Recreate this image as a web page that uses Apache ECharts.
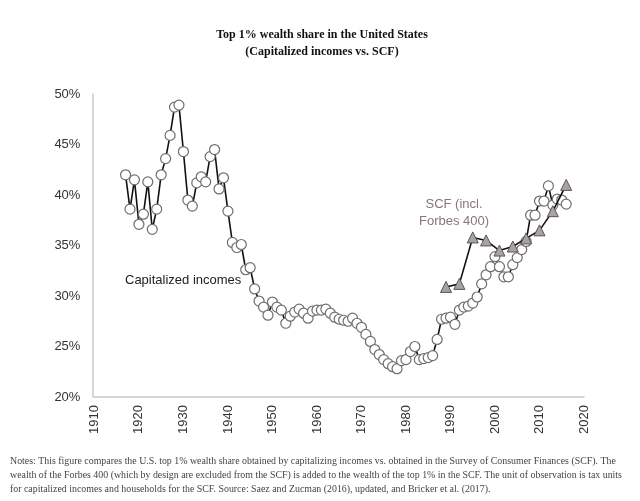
<!DOCTYPE html>
<html><head><meta charset="utf-8">
<script src="https://cdn.jsdelivr.net/npm/echarts@6/dist/echarts.min.js"></script>
<style>html,body{margin:0;padding:0;background:#fff}#c{width:640px;height:501px}</style>
</head><body><div id="c"></div>
<script>
var capYears = [];
for (var y = 1917; y <= 2016; y++) capYears.push(y);
var capValues = [
42.0,38.6,41.5,37.1,38.1,41.3,36.6,38.6,42.0,43.6,
45.9,48.7,48.9,44.3,39.5,38.9,41.2,41.8,41.3,43.8,
44.5,40.6,41.7,38.4,35.3,34.8,35.1,32.6,32.8,30.7,
29.5,28.9,28.1,29.4,28.9,28.6,27.3,28.0,28.4,28.7,
28.3,27.8,28.5,28.6,28.6,28.7,28.3,27.9,27.7,27.6,
27.5,27.8,27.3,26.9,26.2,25.5,24.7,24.2,23.7,23.3,
23.0,22.8,23.6,23.7,24.5,25.0,23.7,23.8,23.9,24.1,
25.7,27.7,27.8,27.9,27.2,28.6,28.9,29.0,29.3,29.9,
31.2,32.1,32.9,33.9,32.9,31.9,31.9,33.1,33.8,34.6,
35.4,38.0,38.0,39.4,39.4,40.9,39.0,39.6,39.5,39.1
];
var scfYears = [1989,1992,1995,1998,2001,2004,2007,2010,2013,2016];
var scfValues = [30.9,31.2,35.8,35.5,34.5,34.9,35.7,36.5,38.4,41.0];
var xTicks = {min:1910, max:2020, step:10};
var yTicks = {min:20, max:50, step:5};
var titleLines = ['Top 1% wealth share in the United States','(Capitalized incomes vs. SCF)'];
var noteLines = [
'Notes: This figure compares the U.S. top 1% wealth share obtained by capitalizing incomes vs. obtained in the Survey of Consumer Finances (SCF). The',
'wealth of the Forbes 400 (which by design are excluded from the SCF) is added to the wealth of the top 1% in the SCF. The unit of observation is tax units',
'for capitalized incomes and households for the SCF. Source: Saez and Zucman (2016), updated, and Bricker et al. (2017).'
];
var capLabel = 'Capitalized incomes';
var scfLabel = ['SCF (incl.','Forbes 400)'];

function zip(a,b){return a.map(function(v,i){return [v,b[i]];});}

var chart = echarts.init(document.getElementById('c'), null, {renderer:'canvas'});
chart.setOption({
  animation:false,
  backgroundColor:'#fff',
  title:{
    text:titleLines.join('\n'), left:317, top:21, textAlign:'center',
    textStyle:{fontFamily:'Liberation Serif', fontWeight:'bold', fontSize:12, lineHeight:17, color:'#111'}
  },
  grid:{left:94.4, right:56, top:94, bottom:104},
  xAxis:{
    type:'value', min:xTicks.min, max:xTicks.max, interval:xTicks.step,
    axisLine:{show:true, lineStyle:{color:'#c8c8c8', width:1.5}},
    axisTick:{show:false}, splitLine:{show:false},
    axisLabel:{rotate:90, margin:8, fontFamily:'Liberation Sans', fontSize:13, color:'#333',
      formatter:function(v){return String(v);}}
  },
  yAxis:{
    type:'value', min:yTicks.min, max:yTicks.max, interval:yTicks.step, offset:2,
    axisLine:{show:true, lineStyle:{color:'#c8c8c8', width:1.5}},
    axisTick:{show:false}, splitLine:{show:false},
    axisLabel:{formatter:'{value}%', margin:12, fontFamily:'Liberation Sans', fontSize:13, color:'#333'}
  },
  series:[
    {type:'line', data:zip(capYears,capValues), symbol:'circle', symbolSize:10,
     lineStyle:{color:'#111', width:1.6},
     itemStyle:{color:'#fff', borderColor:'#6e6e6e', borderWidth:1.2}, z:2},
    {type:'line', data:zip(scfYears,scfValues), symbol:'triangle', symbolSize:11,
     lineStyle:{color:'#111', width:1.6},
     itemStyle:{color:'#aaa2a2', borderColor:'#5a5555', borderWidth:1}, z:3}
  ],
  graphic:[
    {type:'text', left:125, top:274, style:{text:capLabel, font:'13px "Liberation Sans"', fill:'#222'}},
    {type:'text', x:454, y:196, style:{text:scfLabel.join('\n'), font:'13px "Liberation Sans"', lineHeight:17, fill:'#8a7676', align:'center'}},
    {type:'text', left:10, top:454, style:{text:noteLines.join('\n'), font:'9.9px "Liberation Serif"', lineHeight:14, fill:'#444'}}
  ]
});
</script></body></html>
